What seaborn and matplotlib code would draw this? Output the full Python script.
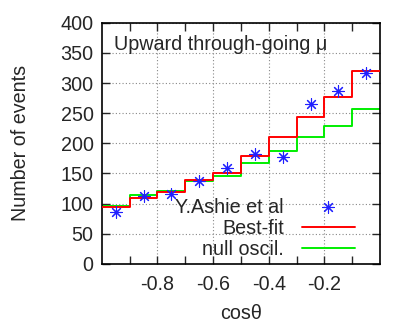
"""Upward through-going muon zenith-angle distribution."""
import numpy as np
import pandas as pd
import matplotlib
matplotlib.use("Agg")
import matplotlib.pyplot as plt
import seaborn as sns

sns.set_theme(style="white")
plt.rcParams["font.family"] = ["Liberation Sans", "DejaVu Sans"]

# --- Data ---
bin_edges = [-1.0, -0.9, -0.8, -0.7, -0.6, -0.5, -0.4, -0.3, -0.2, -0.1, 0.0]
bin_centers = [-0.95, -0.85, -0.75, -0.65, -0.55, -0.45, -0.35, -0.25, -0.15, -0.05]
data_events = [86, 113, 116, 138, 159, 183, 178, 266, 287, 317]
best_fit = [95, 110, 120, 139, 150, 179, 210, 244, 277, 320]
null_oscil = [96, 114, 121, 137, 145, 168, 187, 211, 229, 257]

steps = pd.DataFrame({
    "x": bin_edges,
    "best": best_fit + [best_fit[-1]],
    "null": null_oscil + [null_oscil[-1]],
})

FS = 14.2

fig = plt.figure(figsize=(4.14, 3.25), dpi=100)
ax = fig.add_axes([0.246, 0.188, 0.672, 0.742])

sns.scatterplot(x=bin_centers, y=data_events, marker=(8, 2, 0), color="#2020ff",
                s=70, linewidth=0.8, ax=ax, label="Y.Ashie et al", zorder=4)
sns.lineplot(data=steps, x="x", y="best", drawstyle="steps-post", color="#ff0000",
             linewidth=1.4, estimator=None, ax=ax, label="Best-fit", zorder=3)
sns.lineplot(data=steps, x="x", y="null", drawstyle="steps-post", color="#00ee00",
             linewidth=1.4, estimator=None, ax=ax, label="null oscil.", zorder=2)

ax.set_xlim(-1.0, 0.0)
ax.set_ylim(0, 400)
ax.set_xticks([-0.8, -0.6, -0.4, -0.2])
ax.set_xticklabels(["-0.8", "-0.6", "-0.4", "-0.2"])
ax.set_xticks(np.arange(-0.9, 0.0, 0.1), minor=True)
ax.set_yticks(range(0, 401, 50))
ax.grid(True, which="major", linestyle=(0, (1, 2)), color="#888888", linewidth=0.8)
ax.tick_params(which="both", direction="in", top=True, right=True, labelsize=FS,
               length=6, width=1.0, bottom=True, left=True)
ax.tick_params(axis="x", pad=8)
ax.tick_params(axis="y", pad=6)
for s in ax.spines.values():
    s.set_linewidth(1.2)
    s.set_color("black")

ax.set_xlabel("cos\u03b8", fontsize=FS, labelpad=7)
ax.set_ylabel("Number of events", fontsize=FS, labelpad=22)
ax.text(0.045, 0.95, "Upward through-going \u03bc", transform=ax.transAxes,
        fontsize=FS, va="top", ha="left")

ax.legend(loc="lower right", bbox_to_anchor=(0.96, -0.035), frameon=False,
          markerfirst=False, fontsize=FS, handlelength=2.7, labelspacing=0.1,
          handletextpad=0.9, borderaxespad=0.3)

plt.savefig("out.png", dpi=100, facecolor="white")
plt.close()
